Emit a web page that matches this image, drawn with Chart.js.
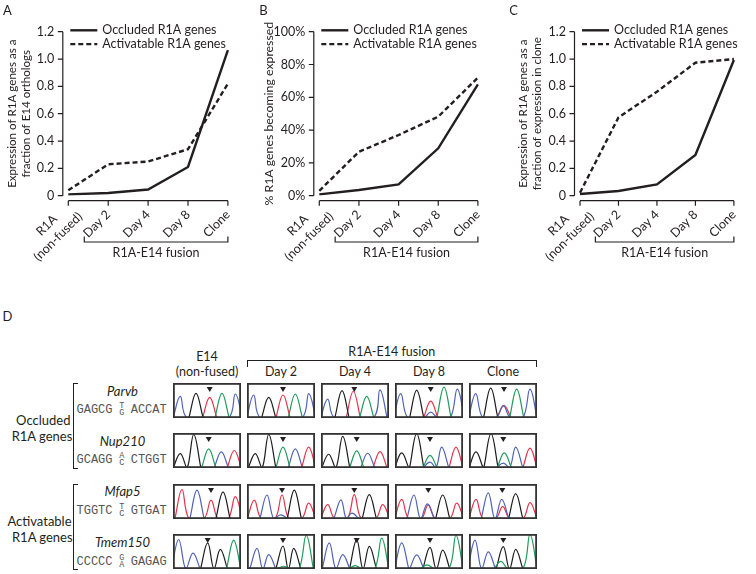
<!DOCTYPE html>
<html>
<head>
<meta charset="utf-8">
<script src="https://cdn.jsdelivr.net/npm/chart.js@4.4.1/dist/chart.umd.min.js"></script>
<style>
  html, body { margin: 0; padding: 0; background: #fff; }
  #fig { position: relative; width: 756px; height: 574px; overflow: hidden; font-family: Lato, sans-serif; color: #231f20; }
  .abs { position: absolute; }
  .t { position: absolute; white-space: nowrap; transform: translate(-50%, -50%); font-size: 12.5px; line-height: 1; }
  .seq { font-family: "Liberation Mono", monospace; font-size: 12px; color: #555; }
  .small { font-family: "Liberation Mono", monospace; font-size: 8.5px; color: #555; }
  .brk { position: absolute; border: 0 solid #231f20; box-sizing: border-box; }
</style>
</head>
<body>
<div id="fig"></div>
<script>
// ---- panels A-C: line charts ----
const stages = [['R1A', '(non-fused)'], 'Day 2', 'Day 4', 'Day 8', 'Clone'];
const seriesNames = ['Occluded R1A genes', 'Activatable R1A genes'];
const fusionLabel = 'R1A-E14 fusion';

const occludedA = [0.01, 0.02, 0.045, 0.21, 1.066];
const activatableA = [0.04, 0.23, 0.25, 0.34, 0.82];
const occludedB = [0.8, 3.5, 6.9, 28.9, 67.9];
const activatableB = [3.0, 26.8, 37.0, 48.2, 72.0];
const occludedC = [0.012, 0.034, 0.083, 0.298, 0.993];
const activatableC = [0.022, 0.573, 0.761, 0.973, 1.0];

const ticksFraction = ['0', '0.2', '0.4', '0.6', '0.8', '1.0', '1.2'];
const ticksPercent = ['0%', '20%', '40%', '60%', '80%', '100%'];

// ---- panel D: chromatograms ----
const columns = [['E14', '(non-fused)'], 'Day 2', 'Day 4', 'Day 8', 'Clone'];
const genes = ['Parvb', 'Nup210', 'Mfap5', 'Tmem150'];
const flanks = [
  ['GAGCG', 'T', 'G', 'ACCAT'],
  ['GCAGG', 'A', 'C', 'CTGGT'],
  ['TGGTC', 'T', 'C', 'GTGAT'],
  ['CCCCC', 'G', 'A', 'GAGAG']
];
const groups = [['Occluded', 'R1A genes'], ['Activatable', 'R1A genes']];

// peaks per cell: [base, position, height]
const parvb = [
  [['C', 7.3, .63], ['G', 23, .72], ['T', 36.7, .60], ['A', 49, .72], ['C', 62.3, .70]],
  [['C', 6.7, .67], ['G', 21.7, .60], ['T', 36, .67], ['A', 48.3, .70], ['C', 61.7, .71]],
  [['C', 6.7, .55], ['G', 21, .80], ['T', 32.3, .78], ['A', 45.7, .63], ['C', 59, .82]],
  [['C', 5.7, .71], ['G', 21.7, .81], ['T', 35.7, .49], ['C', 35.7, .17], ['A', 49, .90], ['C', 62.3, .84]],
  [['C', 6.7, .71], ['G', 21.7, .87], ['T', 35, .36], ['C', 34.3, .36], ['A', 47.7, .84], ['C', 61, .84]]
];
const nup210 = [
  [['G', 7.3, .42], ['G', 20.7, .98], ['A', 35.7, .56], ['C', 48.3, .47], ['T', 61.3, .51]],
  [['G', 8.3, .42], ['G', 21.7, .98], ['A', 36, .61], ['C', 48.3, .56], ['T', 61.7, .61]],
  [['G', 7.7, .40], ['G', 21.7, .92], ['A', 35.7, .50], ['C', 46.7, .43], ['T', 59, .48]],
  [['G', 6.7, .44], ['G', 21.7, 1.0], ['A', 35, .37], ['C', 35, .17], ['C', 46.7, .61], ['T', 61, .61]],
  [['G', 7, .47], ['G', 22, 1.0], ['A', 35.3, .44], ['C', 34.3, .14], ['C', 46.7, .61], ['T', 61, .58]]
];
const mfap5 = [
  [['T', 9, .86], ['C', 24, .84], ['T', 38, .55], ['G', 50, .79], ['T', 62.3, .65]],
  [['T', 7.3, .55], ['C', 20, .70], ['T', 35, .70], ['C', 33.7, .12], ['G', 47.3, .84], ['T', 61.7, .46]],
  [['T', 6.7, .42], ['C', 20, .56], ['T', 33.3, .71], ['C', 31, .17], ['G', 48.3, .71], ['T', 61.7, .42]],
  [['T', 6.7, .57], ['C', 19, .70], ['C', 32.3, .44], ['T', 33.3, .41], ['G', 47.7, .70], ['T', 61.7, .46]],
  [['T', 7, .57], ['C', 19.3, .76], ['C', 32.7, .57], ['T', 33.7, .36], ['G', 46.7, .74], ['T', 61, .48]]
];
const tmem150 = [
  [['C', 5.7, .86], ['C', 20, .46], ['G', 34.7, .76], ['G', 47.3, .57], ['A', 60.7, .84]],
  [['C', 10, .60], ['C', 21.7, .42], ['G', 36, .67], ['A', 36.7, .08], ['G', 46.7, .60], ['A', 59.3, .98]],
  [['C', 8.3, .76], ['C', 21.7, .42], ['G', 35.7, .85], ['A', 34.3, .10], ['G', 48.3, .66], ['A', 60.7, .90]],
  [['C', 6.7, .76], ['C', 21.7, .41], ['G', 35, .63], ['A', 32.3, .12], ['G', 47.7, .55], ['A', 61, .98]],
  [['C', 6, .84], ['C', 19.3, .50], ['G', 34.3, .65], ['A', 32, .22], ['G', 46.7, .57], ['A', 61, 1.0]]
];
const arrowAt = [
  [36.7, 36, 33.3, 35.7, 35],
  [35.7, 36, 35.7, 35, 34.3],
  [38, 35, 33.3, 33.3, 33.3],
  [34.7, 36, 35.7, 35, 34.3]
];
const traces = [parvb, nup210, mfap5, tmem150];

const ink = '#231f20';
const baseColors = { A: '#1f9b5b', C: '#4f63b8', G: '#1d1d1d', T: '#e5334b' };
const tickFont = { family: 'Lato', size: 12.5 };
const fig = document.getElementById('fig');

function put(text, x, y, cls, css) {
  const el = document.createElement('div');
  el.className = 't' + (cls ? ' ' + cls : '');
  el.textContent = text;
  el.style.left = x + 'px';
  el.style.top = y + 'px';
  if (css) el.style.cssText += css;
  fig.appendChild(el);
  return el;
}

function bracket(left, top, width, height, sides) {
  const el = document.createElement('div');
  el.className = 'brk';
  el.style.cssText += `left:${left}px;top:${top}px;width:${width}px;height:${height}px;`;
  sides.forEach(s => el.style['border' + s + 'Width'] = '1.2px');
  fig.appendChild(el);
}

// axes, bracket, first two-line category label and legend, drawn the way the figure has them
const axesPlugin = {
  id: 'figureAxes',
  afterDraw(chart) {
    const { ctx, chartArea: a, scales: { x, y } } = chart;
    ctx.save();
    ctx.strokeStyle = ink;
    ctx.lineWidth = 1.2;
    ctx.beginPath();
    const ax = a.left - 5.5;
    ctx.moveTo(ax, y.getPixelForValue(y.min));
    ctx.lineTo(ax, y.getPixelForValue(y.max));
    y.ticks.forEach(t => {
      const py = y.getPixelForValue(t.value);
      ctx.moveTo(ax - 5, py);
      ctx.lineTo(ax, py);
    });
    const ay = a.bottom + 5;
    const x0 = x.getPixelForValue(0), xN = x.getPixelForValue(stages.length - 1);
    ctx.moveTo(x0, ay);
    ctx.lineTo(xN, ay);
    stages.forEach((s, i) => {
      const px = x.getPixelForValue(i);
      ctx.moveTo(px, ay);
      ctx.lineTo(px, ay + 5);
    });
    const by = 242, bl = x.getPixelForValue(0.4);
    ctx.moveTo(bl, by - 5.5);
    ctx.lineTo(bl, by);
    ctx.lineTo(xN, by);
    ctx.lineTo(xN, by - 5.5);
    ctx.stroke();

    ctx.fillStyle = ink;
    ctx.font = '12.5px Lato';
    ctx.textAlign = 'center';
    ctx.textBaseline = 'middle';
    ctx.fillText(fusionLabel, (bl + xN) / 2, 252.5);

    // centred two-line label under the first category
    ctx.save();
    ctx.translate(x0 - 15.9, a.bottom + 35.3);
    ctx.rotate(-Math.PI / 4);
    stages[0].forEach((line, i) => ctx.fillText(line, 0, (i - 0.5) * 16));
    ctx.restore();

    chart.data.datasets.forEach((d, i) => {
      const ly = 30.3 + i * 13.8, lx = a.left + 2;
      ctx.setLineDash(d.borderDash || []);
      ctx.lineWidth = d.borderWidth;
      ctx.beginPath();
      ctx.moveTo(lx, ly);
      ctx.lineTo(lx + 27, ly);
      ctx.stroke();
      ctx.setLineDash([]);
      ctx.textAlign = 'left';
      ctx.fillText(d.label, lx + 32, ly);
    });
    ctx.restore();
  }
};

function lineChart(box, occ, act, ticks, yMax, step, title, titlePad, titleSize) {
  const cv = document.createElement('canvas');
  cv.width = box.w;
  cv.height = 300;
  cv.className = 'abs';
  cv.style.left = box.left + 'px';
  cv.style.top = '0px';
  fig.appendChild(cv);
  return new Chart(cv, {
    type: 'line',
    data: {
      labels: stages,
      datasets: [
        { label: seriesNames[0], data: occ, borderColor: ink, borderWidth: 2.4, pointRadius: 0, fill: false },
        { label: seriesNames[1], data: act, borderColor: ink, borderWidth: 2.4, borderDash: [5, 3], pointRadius: 0, fill: false }
      ]
    },
    options: {
      responsive: false,
      animation: false,
      events: [],
      layout: { padding: { top: box.top, right: box.w - box.right, bottom: 0, left: 0 } },
      plugins: { legend: { display: false }, tooltip: { enabled: false } },
      scales: {
        x: {
          type: 'category',
          offset: false,
          grid: { display: false, drawTicks: false },
          border: { display: false },
          ticks: {
            autoSkip: false, maxRotation: 45, minRotation: 45, padding: 11.5, color: ink, font: tickFont,
            // the two-line first label is drawn centred by the plugin
            callback: (v, i) => (i === 0 ? '' : stages[i])
          },
          afterFit(s) { s.height = 300 - box.bottom; }
        },
        y: {
          min: 0,
          max: yMax,
          grid: { display: false, drawTicks: false },
          border: { display: false },
          ticks: { stepSize: step, padding: 14, color: ink, font: tickFont, callback: (v, i) => ticks[i] },
          title: {
            display: true, text: title, color: ink,
            padding: { top: titlePad, bottom: 0 },
            font: { family: 'Lato', size: titleSize, lineHeight: 1.2 }
          },
          afterFit(s) { s.width = box.plotLeft; }
        }
      }
    },
    plugins: [axesPlugin]
  });
}

lineChart({ left: 0, w: 250, plotLeft: 68.3, right: 237.3, top: 31.7, bottom: 195.7 },
  occludedA, activatableA, ticksFraction, 1.2, 0.2,
  ['Expression of R1A genes as a', 'fraction of E14 orthologs'], 5.4, 11.6);
lineChart({ left: 250, w: 250, plotLeft: 69.3, right: 238.3, top: 31.7, bottom: 195.7 },
  occludedB, activatableB, ticksPercent, 100, 20,
  '% R1A genes becoming expressed', 11.5, 12.3);
lineChart({ left: 500, w: 256, plotLeft: 80, right: 249.3, top: 31.7, bottom: 195.7 },
  occludedC, activatableC, ticksFraction, 1.2, 0.2,
  ['Expression of R1A genes as a', 'fraction of expression in clone'], 16.4, 11.6);

put('A', 7.5, 9.5, '', 'font-size:13px');
put('B', 263.5, 9.5, '', 'font-size:13px');
put('C', 513.5, 9.5, '', 'font-size:13px');
put('D', 7.5, 316, '', 'font-size:13px');

// ---- panel D ----
const cellLeft = [173, 247, 321, 395, 469];
const rowTop = [383, 433, 484, 534];
const cellW = 68, cellH = 35, halfWidth = 7.2;

function peakLine(peaks, base) {
  const ps = peaks.filter(p => p[0] === base).sort((a, b) => a[1] - b[1]);
  const pts = [];
  ps.forEach((p, i) => {
    const prev = ps[i - 1], next = ps[i + 1];
    let l = p[1] - halfWidth, r = p[1] + halfWidth;
    if (prev) l = Math.max(l, (prev[1] + p[1]) / 2);
    if (next) r = Math.min(r, (p[1] + next[1]) / 2);
    if (!pts.length || l > pts[pts.length - 1].x + 0.01) pts.push({ x: l, y: 0 });
    pts.push({ x: p[1], y: p[2] });
    pts.push({ x: r, y: 0 });
  });
  return pts;
}

const framePlugin = {
  id: 'cellFrame',
  afterDraw(chart, args, o) {
    const { ctx, width, height, scales: { x } } = chart;
    ctx.save();
    ctx.strokeStyle = '#333';
    ctx.lineWidth = 1.8;
    ctx.strokeRect(0.9, 0.9, width - 1.8, height - 1.8);
    const px = x.getPixelForValue(o.arrow);
    ctx.fillStyle = ink;
    ctx.beginPath();
    ctx.moveTo(px - 3, 4);
    ctx.lineTo(px + 3, 4);
    ctx.lineTo(px, 9);
    ctx.closePath();
    ctx.fill();
    ctx.restore();
  }
};

traces.forEach((row, r) => {
  row.forEach((peaks, c) => {
    const cv = document.createElement('canvas');
    cv.width = cellW;
    cv.height = cellH;
    cv.className = 'abs';
    cv.style.left = cellLeft[c] + 'px';
    cv.style.top = rowTop[r] + 'px';
    fig.appendChild(cv);
    const bases = ['A', 'C', 'G', 'T'].filter(b => peaks.some(p => p[0] === b));
    new Chart(cv, {
      type: 'line',
      data: {
        datasets: bases.map(b => ({
          data: peakLine(peaks, b),
          borderColor: baseColors[b],
          borderWidth: 1.2,
          pointRadius: 0,
          fill: false,
          tension: 0.4
        }))
      },
      options: {
        responsive: false,
        animation: false,
        events: [],
        layout: { padding: 0 },
        plugins: { legend: { display: false }, tooltip: { enabled: false }, cellFrame: { arrow: arrowAt[r][c] } },
        scales: {
          x: { type: 'linear', min: 0, max: cellW, display: false },
          y: { min: 0, max: 1.02, display: false }
        }
      },
      plugins: [framePlugin]
    });
  });
});

// column headers
columns.forEach((h, c) => {
  const cx = cellLeft[c] + cellW / 2;
  if (Array.isArray(h)) {
    put(h[0], cx, 356.7);
    put(h[1], cx, 371.7);
  } else {
    put(h, cx, 371.7);
  }
});
put(fusionLabel, 391.8, 351.7);
bracket(247, 360, 290, 6.5, ['Top', 'Left', 'Right']);

// gene labels and sequences
const geneY = [391, 440.7, 490.7, 542.3];
const seqY = [410, 460, 510.7, 561.7];
genes.forEach((g, r) => {
  put(g, 122.5, geneY[r], '', 'font-style:italic;font-size:13px');
  const f = flanks[r];
  put(f[0], 112.5, seqY[r], 'seq', 'transform:translate(-100%,-50%)');
  put(f[1], 121.7, seqY[r] - 3.8, 'small');
  put(f[2], 121.7, seqY[r] + 2.8, 'small');
  put(f[3], 130.7, seqY[r], 'seq', 'transform:translate(0,-50%)');
});

// group labels
put(groups[0][0], 43.3, 420, '', 'font-size:13px');
put(groups[0][1], 42, 436, '', 'font-size:13px');
put(groups[1][0], 39.5, 520.7, '', 'font-size:13px');
put(groups[1][1], 42.3, 537.3, '', 'font-size:13px');
bracket(72.7, 383, 5.5, 86, ['Top', 'Left', 'Bottom']);
bracket(72.7, 484.3, 5.5, 86, ['Top', 'Left', 'Bottom']);
</script>
</body>
</html>
